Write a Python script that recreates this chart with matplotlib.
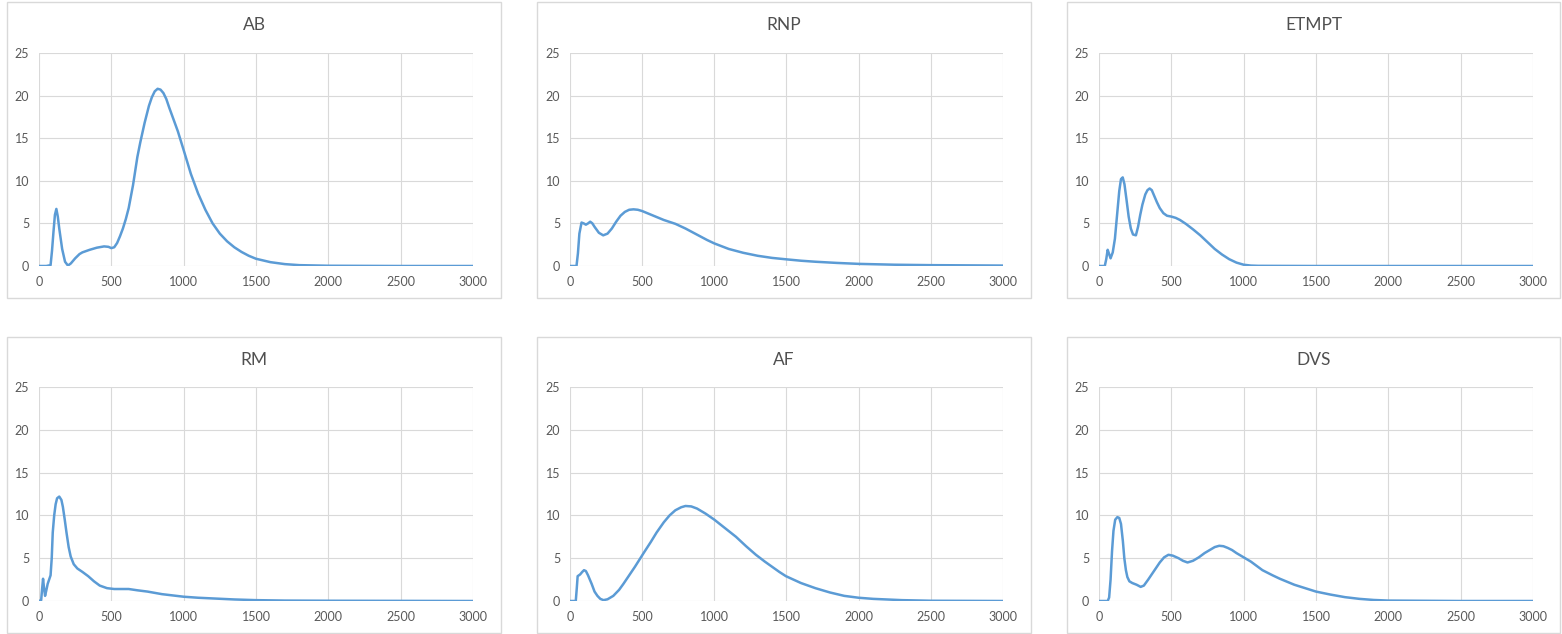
import matplotlib
matplotlib.use("Agg")
import matplotlib.pyplot as plt
from matplotlib.patches import Rectangle

ab_x = [0, 50, 80, 90, 100, 110, 120, 130, 140, 160, 180, 200, 220, 250, 280, 300, 350, 400, 450,
        480, 500, 520, 540, 560, 580, 600, 620, 650, 680, 700, 730, 760, 780, 800, 820, 840, 860,
        880, 900, 930, 960, 1000, 1050, 1100, 1150, 1200, 1250, 1300, 1350, 1400, 1450, 1500,
        1600, 1700, 1800, 2000, 2500, 3000]
ab_y = [0, 0, 0.1, 1.8, 4.0, 6.0, 6.7, 5.8, 4.4, 2.0, 0.5, 0.05, 0.3, 0.9, 1.4, 1.6, 1.9, 2.15,
        2.3, 2.25, 2.1, 2.2, 2.7, 3.5, 4.4, 5.5, 6.8, 9.5, 12.8, 14.5, 16.8, 18.8, 19.8, 20.5, 20.8,
        20.7, 20.3, 19.6, 18.6, 17.2, 15.8, 13.6, 10.8, 8.5, 6.6, 5.0, 3.8, 2.9, 2.2, 1.65, 1.2,
        0.85, 0.45, 0.22, 0.1, 0.03, 0.0, 0.0]

rnp_x = [0, 45, 55, 65, 80, 95, 110, 125, 140, 155, 170, 200, 230, 260, 290, 320, 350, 380, 410,
         440, 470, 500, 550, 600, 650, 730, 800, 850, 900, 950, 1000, 1100, 1200, 1300, 1400,
         1500, 1600, 1700, 1850, 2000, 2250, 2500, 3000]
rnp_y = [0, 0, 1.5, 3.8, 5.1, 5.0, 4.85, 5.0, 5.2, 5.0, 4.6, 3.9, 3.6, 3.8, 4.4, 5.2, 5.9, 6.35,
         6.6, 6.65, 6.6, 6.45, 6.1, 5.75, 5.4, 4.95, 4.4, 3.95, 3.5, 3.05, 2.65, 2.0, 1.55, 1.2,
         0.95, 0.78, 0.62, 0.5, 0.36, 0.25, 0.15, 0.1, 0.05]

etmpt_x = [0, 40, 50, 60, 70, 80, 95, 110, 125, 140, 152, 164, 176, 190, 205, 220, 235, 255, 270,
           285, 300, 320, 335, 350, 365, 380, 400, 420, 445, 470, 500, 530, 560, 600, 650, 700,
           750, 800, 850, 900, 950, 1000, 1050, 1100, 1500, 2000, 3000]
etmpt_y = [0, 0, 0.8, 1.9, 1.4, 0.9, 1.6, 3.2, 6.0, 8.8, 10.2, 10.4, 9.6, 7.8, 5.8, 4.4, 3.7, 3.6,
           4.6, 6.0, 7.2, 8.4, 8.9, 9.1, 8.9, 8.3, 7.5, 6.8, 6.2, 5.9, 5.8, 5.65, 5.4, 4.95, 4.3,
           3.6, 2.8, 2.0, 1.35, 0.8, 0.4, 0.15, 0.05, 0.02, 0, 0, 0]

rm_x = [0, 15, 22, 28, 35, 42, 50, 60, 70, 80, 88, 95, 105, 115, 125, 140, 155, 165, 178, 190,
        205, 219, 240, 265, 300, 340, 380, 420, 470, 520, 570, 620, 680, 750, 850, 1000, 1100,
        1200, 1350, 1500, 1700, 2000, 3000]
rm_y = [0, 0.1, 1.5, 2.6, 1.5, 0.6, 1.2, 2.0, 2.5, 3.0, 5.0, 8.0, 10.0, 11.3, 12.0, 12.2, 11.8,
        11.0, 9.5, 8.0, 6.3, 5.2, 4.3, 3.8, 3.4, 2.9, 2.3, 1.8, 1.5, 1.4, 1.4, 1.4, 1.25, 1.1,
        0.8, 0.5, 0.38, 0.3, 0.18, 0.1, 0.05, 0.03, 0]

af_x = [0, 40, 47, 53, 70, 85, 97, 110, 125, 150, 170, 190, 210, 232, 260, 300, 340, 370, 410,
        450, 510, 560, 600, 650, 690, 730, 770, 800, 840, 880, 940, 1000, 1075, 1150, 1220,
        1288, 1350, 1400, 1450, 1496, 1600, 1700, 1800, 1900, 2000, 2100, 2300, 2500, 3000]
af_y = [0, 0, 1.5, 2.9, 3.1, 3.4, 3.6, 3.5, 3.0, 2.0, 1.1, 0.6, 0.25, 0.1, 0.2, 0.6, 1.3, 2.0,
        3.0, 4.0, 5.6, 6.9, 8.0, 9.2, 10.0, 10.6, 10.95, 11.1, 11.05, 10.8, 10.2, 9.5, 8.5, 7.5,
        6.4, 5.4, 4.6, 4.0, 3.4, 2.9, 2.1, 1.5, 1.0, 0.6, 0.38, 0.25, 0.1, 0.03, 0]

dvs_x = [0, 60, 70, 80, 90, 100, 112, 127, 140, 152, 165, 175, 186, 196, 210, 230, 260, 288, 310,
         340, 380, 420, 450, 480, 510, 550, 580, 612, 650, 690, 730, 760, 800, 831, 860, 890,
         920, 950, 1000, 1050, 1130, 1200, 1250, 1350, 1500, 1600, 1700, 1800, 1900, 2000, 2500,
         3000]
dvs_y = [0, 0, 0.4, 2.5, 5.8, 8.2, 9.5, 9.8, 9.7, 9.0, 7.0, 5.0, 3.6, 2.8, 2.3, 2.1, 1.9, 1.65,
         1.8, 2.5, 3.5, 4.5, 5.1, 5.4, 5.3, 5.0, 4.7, 4.5, 4.7, 5.1, 5.6, 5.9, 6.3, 6.45, 6.4,
         6.2, 5.95, 5.6, 5.1, 4.6, 3.6, 3.0, 2.6, 1.9, 1.1, 0.75, 0.45, 0.25, 0.12, 0.05, 0, 0]

titles = ["AB", "RNP", "ETMPT", "RM", "AF", "DVS"]
series = [(ab_x, ab_y), (rnp_x, rnp_y), (etmpt_x, etmpt_y),
          (rm_x, rm_y), (af_x, af_y), (dvs_x, dvs_y)]

W, H = 1562, 634
plt.rcParams['font.family'] = ['Lato', 'DejaVu Sans']
fig = plt.figure(figsize=(W / 100, H / 100), dpi=100)

# pixel boxes: (box left, box right), (plot left, plot right)
cols = [((7, 501), (39, 473)), ((537, 1031), (570, 1003)), ((1067, 1560), (1099, 1533))]
rows = [((2, 298), (53, 266), 25), ((337, 633), (387, 601), 360)]

i = 0
for (bt, bb), (pt, pb), ty in rows:
    for (bl, br), (pl, pr) in cols:
        fig.patches.append(Rectangle((bl / W, 1 - bb / H), (br - bl) / W, (bb - bt) / H,
                                     transform=fig.transFigure, fill=False,
                                     edgecolor="#D9D9D9", linewidth=1))
        ax = fig.add_axes([pl / W, 1 - pb / H, (pr - pl) / W, (pb - pt) / H])
        x, y = series[i]
        ax.plot(x, y, color="#5B9BD5", linewidth=1.8, solid_joinstyle="round")
        ax.set_xlim(0, 3000)
        ax.set_ylim(0, 25)
        ax.set_xticks(range(0, 3001, 500))
        ax.set_yticks(range(0, 26, 5))
        ax.grid(True, color="#D9D9D9", linewidth=0.8)
        ax.set_axisbelow(True)
        for s in ax.spines.values():
            s.set_visible(False)
        ax.tick_params(length=0, labelsize=9, labelcolor="#595959", pad=7)
        fig.text((bl + br) / 2 / W, 1 - ty / H, titles[i], ha="center", va="center",
                 fontsize=12.5, color="#505050")
        i += 1

plt.savefig("out.png", dpi=100)
